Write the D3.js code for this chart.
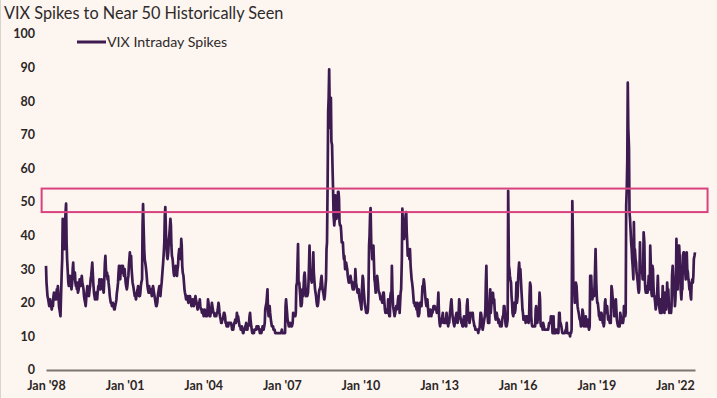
<!DOCTYPE html>
<html>
<head>
<meta charset="utf-8">
<script src="https://cdn.jsdelivr.net/npm/d3@7"></script>
<style>
  body { margin: 0; background: #fdf5ef; }
  svg { display: block; font-family: Lato, "Open Sans", sans-serif; }
</style>
</head>
<body>
<svg width="717" height="398"></svg>
<script>
// weekly-ish VIX intraday highs, 4 readings per month (days 1, 8, 15, 22)
const v1998 = [31,26,24,22, 21,20,19,20, 21,20,19,18, 20,19,22,23, 21,22,23,21, 24,22,25,23, 19,18,17,16, 24,29,33,45, 41,38,36,43, 47,49.5,38,33, 29,26,25,27, 28,26,25,24];
const v1999 = [26,30,32,28, 27,29,26,25, 25,24,26,23, 24,25,27,26, 25,27,28,26, 25,24,22,21, 20,19,21,23, 25,24,23,22, 24,25,27,28, 30,32,29,26, 23,22,21,22, 23,22,21,23];
const v2000 = [25,24,27,26, 24,25,27,26, 25,24,23,26, 32,34,30,28, 29,27,28,26, 24,22,21,20, 20,19,19,20, 19,18,18,19, 20,21,23,24, 26,29,31,28, 27,30,31,29, 30,31,29,28];
const v2001 = [30,28,26,25, 24,25,27,28, 31,33,35,32, 34,30,28,26, 25,24,23,22, 22,21,22,23, 24,25,23,22, 22,23,25,26, 27,43,49.4,43, 36,33,32,31, 29,27,25,24, 23,25,24,23];
const v2002 = [24,23,22,24, 25,24,23,22, 21,20,19,19, 20,22,23,24, 25,23,22,24, 26,28,30,32, 35,38,46,48.5, 40,37,34,33, 35,38,40,42, 45,43,37,34, 33,31,29,28, 29,30,31,29];
const v2003 = [28,30,31,34, 36,35,34,33, 39,37,31,29, 28,26,24,23, 22,21,21,22, 21,20,21,22, 22,21,20,19, 20,21,20,19, 20,21,22,21, 20,19,18,19, 19,20,21,19, 18,18,17,18];
const v2004 = [17,16,17,18, 17,16,16,16, 18,21,20,18, 16,16,17,18, 20,19,18,17, 17,16,16,16, 16,17,17,18, 20,19,17,16, 15,14,14,15, 15,16,17,17, 16,14,14,13, 13,14,13,14];
const v2005 = [14,14,14,14, 13,12,12,12, 13,14,14,15, 14,15,17,16, 16,15,14,13, 13,12,12,13, 12,11,11,12, 12,13,13,14, 12,12,13,13, 14,16,17,15, 13,12,11,11, 11,11,12,12];
const v2006 = [12,12,13,13, 13,13,12,12, 11,12,12,11, 12,13,12,12, 13,14,18,19, 20,22,24,18, 16,17,19,17, 15,14,13,13, 13,12,12,12, 11,11,11,11, 11,11,11,11, 11,11,11,11];
const v2007 = [12,11,11,11, 11,11,11,19, 21,19,17,15, 14,13,13,13, 14,13,13,13, 14,17,16,16, 16,16,17,25, 26,32,37.5,26, 26,24,22,19, 19,20,24,22, 25,28,29,27, 22,23,24,22];
const v2008 = [23,26,31,37, 28,28,27,26, 28,30,35,29, 26,24,23,22, 20,19,19,20, 23,24,24,25, 27,28,26,24, 23,22,21,22, 25,27,36,38, 57,77,81,89.5, 73,72,81,68, 67,60,54,46];
const v2009 = [43,45,52,47, 45,46,49,53, 53,51,44,43, 43,41,38,38, 38,35,33,34, 30,31,32,31, 30,28,27,26, 26,27,28,27, 26,25,24,26, 24,26,25,30, 26,25,24,23, 23,24,22,21];
const v2010 = [20,19,18,24, 28,27,24,22, 20,19,18,17, 17,17,18,22, 37,40,46,48.2, 37,36,33,35, 37,32,27,26, 23,25,27,28, 26,24,23,23, 22,21,21,21, 20,22,23,23, 20,18,17,18];
const v2011 = [18,17,17,21, 17,16,16,22, 23,21,31,24, 19,18,17,16, 17,18,19,18, 19,21,22,21, 17,20,23,24, 33,48,44,43, 39,41,43,46, 47,41,38,34, 36,35,33,36, 31,29,27,26];
const v2012 = [24,22,20,20, 19,20,19,18, 20,17,16,16, 17,20,20,19, 19,22,25,24, 27,26,24,22, 20,19,20,21, 18,16,16,17, 18,17,16,17, 17,18,19,19, 19,18,18,18, 17,18,20,23];
const v2013 = [16,14,13,14, 14,15,16,17, 15,14,14,15, 14,15,17,15, 14,13,14,14, 17,18,20,21, 18,16,15,14, 13,14,15,16, 17,16,14,15, 17,21,20,16, 15,14,14,13, 13,15,16,15];
const v2014 = [14,13,13,19, 21,17,15,15, 14,15,17,16, 16,17,17,15, 14,13,13,12, 12,12,12,12, 11,12,12,13, 17,17,16,13, 12,13,14,15, 16,18,26,31, 18,16,14,14, 14,21,24,17];
const v2015 = [20,21,22,23, 20,21,18,16, 15,16,17,16, 15,14,15,14, 13,14,14,13, 15,16,16,19, 19,17,14,13, 13,14,15,53.3, 31,30,28,27, 26,22,20,17, 16,17,20,17, 18,21,26,20];
const v2016 = [22,27,30,32, 28,30,27,24, 21,18,17,15, 15,16,15,14, 16,16,16,15, 14,15,22,26, 25,16,14,13, 13,13,13,13, 13,18,19,16, 14,15,16,17, 23,21,14,13, 13,13,12,14];
const v2017 = [13,12,12,12, 12,12,12,12, 12,13,14,14, 14,16,16,15, 11,11,16,11, 11,12,11,12, 12,12,11,11, 17,17,14,14, 13,12,11,11, 11,11,11,11, 12,12,14,11, 11,11,11,11];
const v2018 = [10,11,11,12, 50.3,41,25,23, 24,20,23,26, 25,22,19,18, 17,16,15,15, 13,13,14,18, 17,15,13,14, 13,16,14,13, 14,15,13,12, 13,28,26,28, 22,21,23,23, 22,25,30,36];
const v2019 = [26,22,20,20, 18,16,16,15, 17,15,17,16, 14,14,13,14, 20,21,17,18, 19,17,15,16, 15,14,14,14, 25,24,22,21, 19,16,16,17, 21,18,15,14, 13,13,13,13, 17,16,15,14];
const v2020 = [15,14,15,19, 19,16,17,49, 54,62,85.5,72, 66,47,45,42, 38,36,33,31, 27,44,35,36, 33,32,29,28, 26,24,23,24, 38,31,30,29, 30,27,29,41, 38,27,24,23, 23,25,23,24];
const v2021 = [28,25,24,37, 30,23,22,31, 30,25,22,22, 20,18,19,20, 24,28,23,20, 18,17,21,18, 17,20,25,19, 21,17,23,20, 18,21,26,23, 24,20,17,18, 19,17,19,28, 31,28,26,24];
const v2022 = [19,21,26,39, 28,24,32,37, 37,34,30,24, 21,24,24,34, 35,35,32,30, 27,34,35,30, 29,27,26,24, 24,22,21,26, 27,26,28,33, 34,35];

const years = d3.range(1998, 2023);
const yearly = [v1998, v1999, v2000, v2001, v2002, v2003, v2004, v2005, v2006, v2007, v2008, v2009,
  v2010, v2011, v2012, v2013, v2014, v2015, v2016, v2017, v2018, v2019, v2020, v2021, v2022];

const yTicks = d3.range(0, 101, 10);
const xTickYears = [1998, 2001, 2004, 2007, 2010, 2013, 2016, 2019, 2022];
const bandLow = 47, bandHigh = 54;
const seriesName = "VIX Intraday Spikes";
const title = "VIX Spikes to Near 50 Historically Seen";

const data = [];
yearly.forEach((vals, k) => {
  vals.forEach((v, i) => {
    data.push({ date: new Date(years[k], Math.floor(i / 4), 1 + 7 * (i % 4)), value: v });
  });
});

const svg = d3.select("svg");

const x = d3.scaleTime()
  .domain([new Date(1998, 0, 1), new Date(2022, 9, 8)])
  .range([46, 695]);
const y = d3.scaleLinear().domain([0, 100]).range([370, 34]);

// faint left border like the screenshot
svg.append("line")
  .attr("x1", 0.5).attr("x2", 0.5).attr("y1", 0).attr("y2", 398)
  .attr("stroke", "#d9d4d0");

svg.append("text")
  .attr("x", 4).attr("y", 19)
  .attr("font-size", 16.3)
  .attr("fill", "#2e2a2b")
  .text(title);

// y tick labels
svg.append("g")
  .selectAll("text")
  .data(yTicks)
  .join("text")
  .attr("x", 35)
  .attr("y", d => y(d))
  .attr("dy", "0.35em")
  .attr("text-anchor", "end")
  .attr("font-size", 12.5)
  .attr("font-weight", "bold")
  .attr("fill", "#2b2626")
  .text(d => d);

// x axis
const xAxis = d3.axisBottom(x)
  .tickValues(xTickYears.map(yr => new Date(yr, 0, 1)))
  .tickFormat(d => "Jan '" + d3.timeFormat("%y")(d))
  .tickSize(0)
  .tickPadding(11);

const gx = svg.append("g")
  .attr("transform", `translate(0,${y(0)})`)
  .call(xAxis);
gx.select(".domain").attr("stroke", "#7b7571").attr("stroke-width", 2);
gx.selectAll("text")
  .attr("font-family", "Lato, sans-serif")
  .attr("font-size", 12.5)
  .attr("font-weight", "bold")
  .attr("fill", "#2b2626");

// VIX line
const line = d3.line()
  .x(d => x(d.date))
  .y(d => y(d.value));

svg.append("path")
  .datum(data)
  .attr("fill", "none")
  .attr("stroke", "#3d1b50")
  .attr("stroke-width", 2.7)
  .attr("stroke-linejoin", "round")
  .attr("d", line);

// highlight box round the ~50 band
svg.append("rect")
  .attr("x", x(new Date(1997, 10, 1)))
  .attr("y", y(bandHigh))
  .attr("width", x(new Date(2023, 3, 1)) - x(new Date(1997, 10, 1)))
  .attr("height", y(bandLow) - y(bandHigh))
  .attr("fill", "none")
  .attr("stroke", "#d6437f")
  .attr("stroke-width", 2);

// legend
const legend = svg.append("g").attr("transform", "translate(77,42)");
legend.append("line")
  .attr("x1", 0).attr("x2", 29)
  .attr("stroke", "#3d1b50").attr("stroke-width", 3);
legend.append("text")
  .attr("x", 30).attr("dy", "0.35em")
  .attr("font-size", 14.2)
  .attr("fill", "#2e2a2b")
  .text(seriesName);
</script>
</body>
</html>
